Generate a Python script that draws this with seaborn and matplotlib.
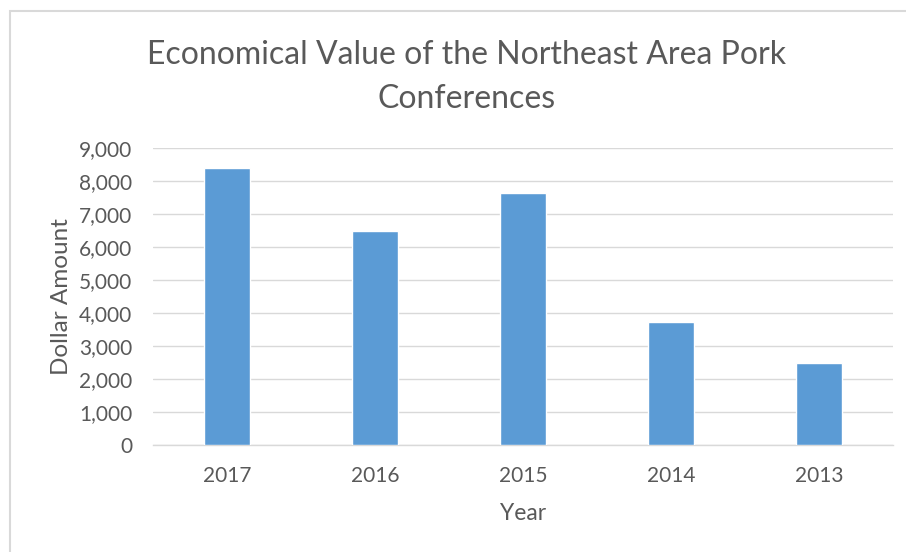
import matplotlib
matplotlib.use("Agg")
import matplotlib.pyplot as plt
import seaborn as sns
import pandas as pd
from matplotlib.patches import Rectangle
from matplotlib.ticker import FuncFormatter, MultipleLocator

years = ["2017", "2016", "2015", "2014", "2013"]
values = [8400, 6500, 7650, 3730, 2480]

sns.set_theme(style="white")
plt.rcParams['font.family'] = ['Lato', 'DejaVu Sans']

TEXT = "#595959"
BAR = "#5B9BD5"
GRID = "#D9D9D9"

df = pd.DataFrame({"Year": years, "Value": values})

fig = plt.figure(figsize=(9.06, 5.52), dpi=100)
ax = fig.add_axes([153/906, 1-445/552, (893-153)/906, (445-148)/552])

sns.barplot(data=df, x="Year", y="Value", order=years, color=BAR,
            saturation=1, width=0.31, ax=ax, zorder=3)

ax.set_ylim(0, 9000)
ax.yaxis.set_major_locator(MultipleLocator(1000))
ax.yaxis.set_major_formatter(FuncFormatter(lambda v, p: f"{int(v):,}"))
ax.grid(axis="y", color=GRID, linewidth=1, zorder=0)
ax.set_axisbelow(True)
for s in ["top", "right", "left"]:
    ax.spines[s].set_visible(False)
ax.spines["bottom"].set_color(GRID)
ax.spines["bottom"].set_linewidth(1)
ax.tick_params(axis="both", length=0, colors=TEXT, labelsize=15)
ax.tick_params(axis="x", pad=15)
ax.tick_params(axis="y", pad=15)
ax.set_xlabel("Year", color=TEXT, fontsize=16.5, labelpad=12)
ax.set_ylabel("Dollar Amount", color=TEXT, fontsize=17.5, labelpad=5)

fig.text(467/906, 1-77/552, "Economical Value of the Northeast Area Pork\nConferences",
         ha="center", va="center", fontsize=23, color=TEXT, linespacing=1.55)

fig.patches.append(Rectangle((10/906, -0.1), 1.2, (552-11)/552 + 0.1,
                             transform=fig.transFigure, fill=False,
                             edgecolor="#D9D9D9", linewidth=1.5))

fig.savefig("out.png", dpi=100, facecolor="white")
